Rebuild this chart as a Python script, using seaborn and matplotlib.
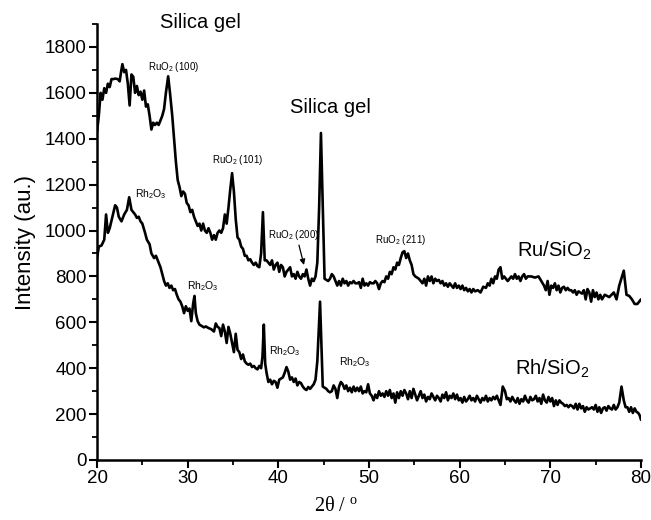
import numpy as np
import pandas as pd
import matplotlib
matplotlib.use("Agg")
import matplotlib.pyplot as plt
from matplotlib.ticker import MultipleLocator
import seaborn as sns

# ---------------- data ----------------
ru_x = [20.0, 20.2, 20.4, 20.6, 20.8, 21.0, 21.2, 21.4, 21.6, 21.8, 22.0, 22.3, 22.5, 22.65, 22.8,
        23.0, 23.2, 23.4, 23.6, 23.8, 24.0, 24.2, 24.4, 24.6, 24.8, 25.0, 25.2, 25.4, 25.6, 25.8,
        26.0, 26.2, 26.4, 26.6, 26.8, 27.0, 27.2, 27.4, 27.6, 27.85, 28.05, 28.3, 28.5, 28.7, 28.9,
        29.1, 29.3, 29.5, 29.7, 29.9, 30.1, 30.3, 30.5, 30.7, 30.9, 31.1, 31.3, 31.5, 31.7, 31.9,
        32.1, 32.3, 32.5, 32.7, 32.9, 33.1, 33.3, 33.5, 33.7, 33.9, 34.1, 34.3, 34.5, 34.7, 34.9,
        35.1, 35.3, 35.5, 35.7, 35.9, 36.1, 36.3, 36.5, 36.7, 36.9, 37.1, 37.3, 37.5, 37.7, 37.9,
        38.1, 38.3, 38.5, 38.7, 38.9, 39.1, 39.3, 39.5, 39.7, 39.9, 40.1, 40.3, 40.5, 40.7, 40.9,
        41.1, 41.3, 41.5, 41.7, 41.9, 42.1, 42.3, 42.5, 42.7, 42.9, 43.1, 43.3, 43.5, 43.7, 43.9,
        44.1, 44.3, 44.5, 44.7, 44.9, 45.1, 45.3, 45.5, 45.7, 45.9, 46.1, 46.3, 46.5, 46.7, 46.9,
        47.1, 47.3, 47.5, 47.7, 47.9, 48.1, 48.3, 48.5, 48.7, 48.9, 49.1, 49.3, 49.5, 49.7, 49.9,
        50.1, 50.3, 50.5, 50.7, 50.9, 51.1, 51.3, 51.5, 51.7, 51.9, 52.1, 52.3, 52.5, 52.7, 52.9,
        53.1, 53.3, 53.5, 53.7, 53.9, 54.1, 54.3, 54.5, 54.7, 54.9, 55.1, 55.3, 55.5, 55.7, 55.9,
        56.1, 56.3, 56.5, 56.7, 56.9, 57.1, 57.3, 57.5, 57.7, 57.9, 58.1, 58.3, 58.5, 58.7, 58.9,
        59.1, 59.3, 59.5, 59.7, 59.9, 60.1, 60.3, 60.5, 60.7, 60.9, 61.1, 61.3, 61.5, 61.7, 62.0,
        62.3, 62.6, 62.9, 63.1, 63.3, 63.5, 63.7, 63.9, 64.1, 64.3, 64.5, 64.7, 64.9, 65.1, 65.3,
        65.5, 65.7, 65.9, 66.1, 66.3, 66.5, 66.7, 66.9, 67.1, 67.3, 67.5, 67.9, 68.3, 68.7, 69.0,
        69.3, 69.5, 69.7, 69.9, 70.1, 70.3, 70.5, 70.7, 70.9, 71.1, 71.3, 71.5, 71.7, 71.9, 72.1,
        72.3, 72.5, 72.7, 72.9, 73.1, 73.3, 73.5, 73.7, 73.9, 74.1, 74.3, 74.5, 74.7, 74.9, 75.1,
        75.3, 75.5, 75.7, 76.0, 76.5, 77.0, 77.3, 77.6, 77.9, 78.1, 78.4, 78.7, 79.0, 79.3, 79.6,
        79.8, 80.0]
ru_y = [1430, 1500, 1600, 1570, 1620, 1600, 1640, 1625, 1660, 1660, 1662, 1660, 1650, 1690, 1725,
        1690, 1700, 1640, 1545, 1680, 1670, 1600, 1630, 1590, 1605, 1570, 1610, 1540, 1550, 1500,
        1440, 1470, 1460, 1470, 1460, 1480, 1500, 1530, 1600, 1672, 1600, 1500, 1400, 1300, 1220,
        1190, 1150, 1170, 1160, 1120, 1110, 1080, 1090, 1060, 1040, 1020, 1030, 1000, 1030, 1000,
        990, 1010, 990, 960, 980, 960, 990, 1000, 990, 1010, 1070, 1030, 1100, 1180, 1250,
        1170, 1050, 970, 960, 930, 920, 890, 890, 870, 875, 860, 850, 860, 845, 840,
        900, 1080, 870, 870, 860, 850, 870, 830, 850, 860, 820, 850, 840, 800, 820,
        830, 840, 800, 810, 790, 820, 800, 790, 810, 800, 830, 790, 760, 790, 780,
        800, 860, 1100, 1425, 1100, 790, 785, 780, 790, 810, 800, 780, 760, 780, 760,
        790, 770, 780, 760, 775, 770, 780, 770, 770, 775, 750, 790, 760, 770, 760,
        775, 770, 770, 780, 770, 745, 770, 780, 775, 800, 790, 820, 810, 840, 830,
        860, 850, 880, 905, 910, 880, 900, 870, 850, 810, 800, 795, 790, 780, 770,
        790, 760, 800, 780, 800, 770, 790, 780, 785, 770, 780, 760, 770, 755, 770,
        760, 750, 770, 750, 760, 745, 760, 740, 750, 735, 745, 730, 745, 735, 740,
        730, 755, 750, 770, 760, 790, 770, 800, 790, 830, 840, 790, 800, 790, 780,
        790, 800, 790, 810, 790, 800, 780, 800, 810, 790, 800, 800, 795, 800, 780,
        760, 740, 780, 720, 760, 750, 770, 740, 760, 730, 750, 755, 740, 750, 740,
        740, 730, 740, 720, 735, 730, 725, 740, 700, 745, 730, 690, 740, 710, 730,
        700, 720, 700, 720, 710, 730, 700, 760, 800, 825, 720, 715, 700, 680, 680,
        690, 700]

rh_x = [20.0, 20.2, 20.5, 20.8, 21.0, 21.2, 21.4, 21.7, 22.0, 22.2, 22.4, 22.7, 23.0, 23.3, 23.55,
        23.8, 24.0, 24.2, 24.4, 24.6, 24.8, 25.0, 25.3, 25.5, 25.8, 26.0, 26.3, 26.5, 26.8, 27.0,
        27.2, 27.4, 27.6, 27.8, 28.0, 28.2, 28.4, 28.6, 28.8, 29.0, 29.2, 29.4, 29.6, 29.8, 30.0,
        30.2, 30.4, 30.6, 30.75, 30.9, 31.1, 31.3, 31.5, 31.8, 32.0, 32.3, 32.6, 32.9, 33.1, 33.3,
        33.5, 33.7, 33.9, 34.1, 34.3, 34.5, 34.7, 34.9, 35.1, 35.3, 35.5, 35.7, 35.9, 36.1, 36.3,
        36.5, 36.7, 36.9, 37.1, 37.3, 37.5, 37.7, 37.9, 38.1, 38.25, 38.4, 38.55, 38.7, 38.9, 39.1,
        39.3, 39.5, 39.7, 39.9, 40.1, 40.3, 40.5, 40.7, 40.9, 41.1, 41.3, 41.5, 41.7, 41.9, 42.1,
        42.3, 42.5, 42.7, 42.9, 43.1, 43.3, 43.5, 43.7, 43.9, 44.1, 44.3, 44.45, 44.6, 44.75, 44.9,
        45.1, 45.3, 45.5, 45.7, 45.9, 46.1, 46.3, 46.5, 46.7, 46.9, 47.1, 47.3, 47.5, 47.7, 47.9,
        48.1, 48.3, 48.5, 48.7, 48.9, 49.1, 49.3, 49.5, 49.7, 49.9, 50.1, 50.3, 50.5, 50.7, 50.9,
        51.1, 51.3, 51.5, 51.7, 51.9, 52.1, 52.3, 52.5, 52.7, 52.9, 53.1, 53.3, 53.5, 53.7, 53.9,
        54.1, 54.3, 54.5, 54.7, 54.9, 55.1, 55.3, 55.5, 55.7, 55.9, 56.1, 56.3, 56.5, 56.7, 56.9,
        57.1, 57.3, 57.5, 57.7, 57.9, 58.1, 58.3, 58.5, 58.7, 58.9, 59.1, 59.3, 59.5, 59.7, 59.9,
        60.1, 60.3, 60.5, 60.7, 60.9, 61.1, 61.3, 61.5, 61.7, 61.9, 62.1, 62.3, 62.5, 62.7, 62.9,
        63.1, 63.3, 63.5, 63.7, 63.9, 64.1, 64.3, 64.5, 64.75, 65.0, 65.2, 65.4, 65.6, 65.8, 66.0,
        66.2, 66.4, 66.6, 66.8, 67.0, 67.2, 67.4, 67.6, 67.8, 68.0, 68.2, 68.4, 68.6, 68.8, 69.0,
        69.2, 69.4, 69.6, 69.8, 70.0, 70.2, 70.4, 70.6, 70.8, 71.0, 71.2, 71.4, 71.6, 71.8, 72.0,
        72.2, 72.4, 72.6, 72.8, 73.0, 73.2, 73.4, 73.6, 73.8, 74.0, 74.2, 74.4, 74.6, 74.8, 75.0,
        75.2, 75.4, 75.6, 75.8, 76.0, 76.2, 76.4, 76.6, 76.8, 77.0, 77.2, 77.4, 77.6, 77.85, 78.1,
        78.3, 78.5, 78.7, 78.9, 79.1, 79.3, 79.5, 79.7, 79.85, 80.0]
rh_y = [880, 930, 935, 960, 1070, 990, 1010, 1060, 1110, 1100, 1060, 1040, 1070, 1090, 1145,
        1090, 1080, 1070, 1055, 1060, 1040, 1030, 990, 960, 940, 900, 880, 890, 860, 840,
        810, 780, 760, 770, 750, 760, 740, 745, 720, 700, 690, 670, 640, 670, 650,
        660, 605, 680, 715, 640, 605, 590, 585, 578, 582, 575, 570, 560, 595, 580,
        575, 540, 590, 560, 510, 580, 550, 510, 470, 550, 480, 470, 440, 460, 430,
        420, 415, 420, 405, 410, 400, 395, 410, 400, 450, 590, 420, 380, 340, 350,
        330, 345, 340, 315, 350, 355, 360, 380, 405, 385, 350, 360, 340, 355, 325,
        340, 335, 320, 310, 305, 318, 310, 320, 330, 350, 430, 560, 690, 500, 320,
        315, 310, 300, 295, 300, 325, 310, 270, 320, 340, 330, 310, 325, 300, 315,
        295, 320, 300, 315, 300, 320, 290, 300, 295, 330, 290, 280, 260, 285, 270,
        300, 280, 290, 275, 300, 280, 305, 270, 290, 250, 295, 270, 300, 280, 305,
        290, 265, 300, 270, 310, 285, 260, 280, 300, 270, 285, 255, 275, 265, 290,
        275, 260, 280, 270, 255, 285, 270, 295, 260, 280, 270, 290, 265, 285, 260,
        270, 250, 275, 255, 265, 280, 260, 270, 255, 280, 265, 250, 270, 260, 280,
        255, 270, 260, 275, 265, 280, 260, 240, 320, 300, 265, 270, 255, 275, 260,
        250, 270, 245, 265, 255, 280, 260, 250, 275, 260, 265, 280, 255, 270, 245,
        285, 260, 250, 275, 255, 270, 235, 260, 240, 260, 250, 245, 235, 240, 230,
        240, 235, 225, 245, 220, 245, 225, 235, 210, 230, 220, 225, 230, 220, 240,
        210, 230, 205, 225, 230, 215, 235, 225, 220, 240, 220, 230, 250, 320, 260,
        230, 230, 210, 230, 205, 225, 210, 205, 195, 175]

x_ticks = [20, 30, 40, 50, 60, 70, 80]
y_ticks = [0, 200, 400, 600, 800, 1000, 1200, 1400, 1600, 1800]

# ---------------- styling ----------------
sns.set_style("ticks")
plt.rcParams["font.family"] = ["Liberation Sans", "DejaVu Sans"]
plt.rcParams["mathtext.default"] = "regular"
plt.rcParams["text.color"] = "black"
plt.rcParams["axes.labelcolor"] = "black"

fig = plt.figure(figsize=(6.51, 5.20), dpi=100)
ax = fig.add_axes([97 / 651, 1 - 460 / 520, (641 - 97) / 651, (460 - 24) / 520])

df = pd.concat([
    pd.DataFrame({"x": ru_x, "y": ru_y, "s": "Ru"}),
    pd.DataFrame({"x": rh_x, "y": rh_y, "s": "Rh"}),
])
sns.lineplot(data=df, x="x", y="y", units="s", estimator=None, color="black",
             lw=1.9, ax=ax, legend=False)

ax.set_xlim(20, 80)
ax.set_ylim(0, 1900)
ax.set_xticks(x_ticks)
ax.set_yticks(y_ticks)
ax.xaxis.set_minor_locator(MultipleLocator(5))
ax.yaxis.set_minor_locator(MultipleLocator(100))
sns.despine(ax=ax)
for sp in ("left", "bottom"):
    ax.spines[sp].set_linewidth(1.8)
    ax.spines[sp].set_color("black")
ax.tick_params(which="major", direction="out", length=5.5, width=1.5, labelsize=13.5, pad=2, colors="black")
ax.tick_params(which="minor", direction="out", length=3.5, width=1.3, colors="black")

ax.set_ylabel("Intensity (au.)", fontsize=16, labelpad=6)
ax.set_xlabel("2θ / $^{o}$", fontsize=14.5, family=["Liberation Serif", "DejaVu Serif"])
ax.xaxis.set_label_coords(0.44, -0.085)

# ---------------- annotations ----------------
big = 14.5
ax.text(26.9, 1882, "Silica gel", fontsize=big, ha="left", va="baseline", clip_on=False)
ax.text(41.3, 1512, "Silica gel", fontsize=big, ha="left", va="baseline")
ax.text(66.3, 884, "Ru/SiO$_2$", fontsize=big, ha="left", va="baseline")
ax.text(66.1, 370, "Rh/SiO$_2$", fontsize=big, ha="left", va="baseline")

sm = 7
ax.text(25.6, 1700, "RuO$_2$ (100)", fontsize=sm, ha="left", va="baseline")
ax.text(32.7, 1296, "RuO$_2$ (101)", fontsize=sm, ha="left", va="baseline")
ax.text(38.85, 967, "RuO$_2$ (200)", fontsize=sm, ha="left", va="baseline")
ax.text(50.65, 945, "RuO$_2$ (211)", fontsize=sm, ha="left", va="baseline")
ax.annotate("", xy=(42.9, 838), xytext=(42.2, 948),
            arrowprops=dict(arrowstyle="-|>", color="black", lw=0.9, mutation_scale=8))

rs = 7.5
ax.text(24.2, 1146, "Rh$_2$O$_3$", fontsize=rs, ha="left", va="baseline")
ax.text(29.9, 743, "Rh$_2$O$_3$", fontsize=rs, ha="left", va="baseline")
ax.text(38.95, 462, "Rh$_2$O$_3$", fontsize=rs, ha="left", va="baseline")
ax.text(46.7, 414, "Rh$_2$O$_3$", fontsize=rs, ha="left", va="baseline")

fig.savefig("out.png", dpi=100)
